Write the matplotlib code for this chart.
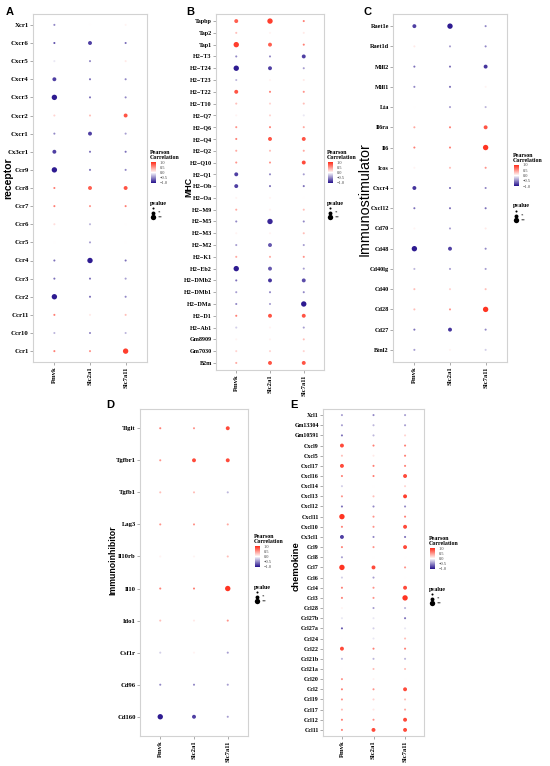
import matplotlib
matplotlib.use("Agg")
import matplotlib.pyplot as plt
from matplotlib.colors import LinearSegmentedColormap, Normalize
from matplotlib.cm import ScalarMappable

W, H = 550, 766

samples = ["Pmvk", "Slc2a1", "Slc7a11"]

# genes listed top -> bottom; r = Pearson r per sample; p = pvalue level (0 none, 1 "*", 2 "**")
receptor_genes = ["Xcr1", "Cxcr6", "Cxcr5", "Cxcr4", "Cxcr3", "Cxcr2", "Cxcr1", "Cx3cr1", "Ccr9", "Ccr8",
                  "Ccr7", "Ccr6", "Ccr5", "Ccr4", "Ccr3", "Ccr2", "Ccr11", "Ccr10", "Ccr1"]
receptor_r = [(-0.5, 0.0, 0.05), (-0.7, -0.8, -0.6), (-0.1, -0.5, 0.1), (-0.8, -0.6, -0.5),
              (-0.95, -0.6, -0.5), (0.2, 0.3, 0.8), (-0.5, -0.8, -0.4), (-0.8, -0.6, -0.6),
              (-0.95, -0.6, -0.5), (0.6, 0.75, 0.8), (0.6, 0.5, 0.6), (0.15, -0.3, 0.0),
              (0.0, -0.4, 0.0), (-0.6, -0.95, -0.6), (-0.6, -0.6, -0.4), (-0.95, -0.6, -0.5),
              (0.6, 0.1, 0.3), (-0.3, -0.5, -0.3), (0.6, 0.5, 0.9)]
receptor_p = [(0, 0, 0), (0, 1, 0), (0, 0, 0), (1, 0, 0), (2, 0, 0), (0, 0, 1), (0, 1, 0), (1, 0, 0),
              (2, 0, 0), (0, 1, 1), (0, 0, 0), (0, 0, 0), (0, 0, 0), (0, 2, 0), (0, 0, 0), (2, 0, 0),
              (0, 0, 0), (0, 0, 0), (0, 0, 2)]

mhc_genes = ["Tapbp", "Tap2", "Tap1", "H2−T3", "H2−T24", "H2−T23", "H2−T22", "H2−T10", "H2−Q7", "H2−Q6",
             "H2−Q4", "H2−Q2", "H2−Q10", "H2−Q1", "H2−Ob", "H2−Oa", "H2−M9", "H2−M5", "H2−M3", "H2−M2",
             "H2−K1", "H2−Eb2", "H2−DMb2", "H2−DMb1", "H2−DMa", "H2−D1", "H2−Ab1", "Gm8909", "Gm7030", "B2m"]
mhc_r = [(0.75, 0.9, 0.6), (0.3, 0.05, 0.1), (0.9, 0.75, 0.6), (-0.5, -0.5, -0.8), (-0.95, -0.8, -0.4),
         (-0.3, 0.05, 0.1), (0.8, 0.6, 0.5), (0.3, 0.2, 0.3), (0.05, 0.2, -0.1), (0.5, 0.6, 0.4),
         (0.6, 0.8, 0.8), (0.4, 0.3, 0.4), (0.5, 0.5, 0.85), (-0.8, -0.5, -0.4), (-0.8, -0.6, -0.6),
         (0.05, 0.05, 0.0), (0.4, 0.05, 0.3), (-0.5, -0.9, -0.5), (0.05, 0.05, 0.3), (-0.4, -0.7, -0.4),
         (0.4, 0.4, 0.5), (-0.95, -0.7, -0.4), (-0.6, -0.85, -0.75), (-0.4, -0.5, -0.5), (-0.5, -0.4, -0.95),
         (0.6, 0.8, 0.8), (-0.2, 0.05, -0.4), (0.05, 0.05, 0.3), (0.2, 0.2, 0.2), (0.4, 0.8, 0.8)]
mhc_p = [(1, 2, 0), (0, 0, 0), (2, 1, 0), (0, 0, 1), (2, 1, 0), (0, 0, 0), (1, 0, 0), (0, 0, 0), (0, 0, 0),
         (0, 0, 0), (0, 1, 1), (0, 0, 0), (0, 0, 1), (1, 0, 0), (1, 0, 0), (0, 0, 0), (0, 0, 0), (0, 2, 0),
         (0, 0, 0), (0, 1, 0), (0, 0, 0), (2, 1, 0), (0, 1, 1), (0, 0, 0), (0, 0, 2), (0, 1, 1), (0, 0, 0),
         (0, 0, 0), (0, 0, 0), (0, 1, 1)]

stim_genes = ["Raet1e", "Raet1d", "Mill2", "Mill1", "Lta", "Il6ra", "Il6", "Icos", "Cxcr4", "Cxcl12",
              "Cd70", "Cd48", "Cd40lg", "Cd40", "Cd28", "Cd27", "Btnl2"]
stim_r = [(-0.8, -0.95, -0.5), (0.1, -0.4, -0.5), (-0.6, -0.6, -0.85), (-0.5, -0.6, 0.05), (0.0, -0.4, -0.3),
          (0.4, 0.6, 0.8), (0.6, 0.6, 0.95), (0.05, 0.3, 0.5), (-0.85, -0.6, -0.5), (-0.6, -0.6, -0.6),
          (0.05, -0.4, 0.1), (-0.95, -0.8, -0.5), (-0.3, -0.4, -0.4), (0.3, 0.2, 0.3), (0.3, 0.5, 0.95),
          (-0.6, -0.85, -0.5), (-0.4, 0.05, -0.2)]
stim_p = [(1, 2, 0), (0, 0, 0), (0, 0, 1), (0, 0, 0), (0, 0, 0), (0, 0, 1), (0, 0, 2), (0, 0, 0), (1, 0, 0),
          (0, 0, 0), (0, 0, 0), (2, 1, 0), (0, 0, 0), (0, 0, 0), (0, 0, 2), (0, 1, 0), (0, 0, 0)]

inhib_genes = ["Tigit", "Tgfbr1", "Tgfb1", "Lag3", "Il10rb", "Il10", "Ido1", "Csf1r", "Cd96", "Cd160"]
inhib_r = [(0.6, 0.5, 0.85), (0.5, 0.85, 0.85), (0.3, 0.3, -0.3), (0.5, 0.5, 0.4), (0.05, 0.05, 0.3),
           (0.6, 0.6, 0.95), (0.3, 0.1, 0.5), (-0.2, 0.05, -0.4), (-0.5, -0.5, -0.4), (-0.95, -0.8, -0.4)]
inhib_p = [(0, 0, 1), (0, 1, 1), (0, 0, 0), (0, 0, 0), (0, 0, 0), (0, 0, 2), (0, 0, 0), (0, 0, 0),
           (0, 0, 0), (2, 1, 0)]

chemo_genes = ["Xcl1", "Gm13304", "Gm10591", "Cxcl9", "Cxcl5", "Cxcl17", "Cxcl16", "Cxcl14", "Cxcl13",
               "Cxcl12", "Cxcl11", "Cxcl10", "Cx3cl1", "Ccl9", "Ccl8", "Ccl7", "Ccl6", "Ccl4", "Ccl3",
               "Ccl28", "Ccl27b", "Ccl27a", "Ccl24", "Ccl22", "Ccl21b", "Ccl21a", "Ccl20", "Ccl2", "Ccl19",
               "Ccl17", "Ccl12", "Ccl11"]
chemo_r = [(-0.4, -0.5, -0.4), (-0.4, -0.3, -0.4), (-0.6, -0.3, 0.2), (0.85, 0.6, 0.6), (0.3, 0.1, 0.6),
           (0.85, 0.6, 0.6), (0.6, 0.6, 0.85), (-0.2, 0.0, 0.2), (0.5, 0.3, 0.9), (-0.6, -0.5, -0.5),
           (0.95, 0.5, 0.6), (0.6, 0.5, 0.85), (-0.8, -0.5, -0.6), (0.6, 0.5, 0.85), (-0.4, 0.0, 0.0),
           (0.95, 0.85, 0.5), (-0.2, -0.4, 0.0), (0.6, 0.5, 0.85), (0.6, 0.5, 0.95), (0.05, -0.4, -0.3),
           (-0.1, -0.1, -0.6), (-0.7, -0.2, -0.1), (0.0, -0.1, 0.3), (0.85, 0.6, 0.6), (-0.3, -0.3, -0.3),
           (0.0, 0.3, 0.3), (0.5, 0.05, 0.0), (0.6, 0.5, 0.85), (0.5, 0.2, 0.3), (0.3, 0.1, 0.4),
           (0.6, 0.5, 0.85), (0.6, 0.85, 0.85)]
chemo_p = [(0, 0, 0), (0, 0, 0), (0, 0, 0), (1, 0, 0), (0, 0, 0), (1, 0, 0), (0, 0, 1), (0, 0, 0), (0, 0, 1),
           (0, 0, 0), (2, 0, 0), (0, 0, 1), (1, 0, 0), (0, 0, 1), (0, 0, 0), (2, 1, 0), (0, 0, 0), (0, 0, 1),
           (0, 0, 2), (0, 0, 0), (0, 0, 0), (0, 0, 0), (0, 0, 0), (1, 0, 0), (0, 0, 0), (0, 0, 0), (0, 0, 0),
           (0, 0, 1), (0, 0, 0), (0, 0, 0), (0, 0, 1), (0, 1, 1)]

p_labels = ["", "*", "**"]

SIZES = [2.2, 8, 15]
cmap = LinearSegmentedColormap.from_list("pc", ["#24108c", "#ffffff", "#ff2a17"])
norm = Normalize(-1, 1)
SERIF = "Liberation Serif"
SANS = "Liberation Sans"


def rect(x0, y0, x1, y1):
    return [x0 / W, 1 - y1 / H, (x1 - x0) / W, (y1 - y0) / H]


def dot_panel(fig, box, genes, r, p, title, title_xy, title_size, letter, letter_xy, ysize,
              title_weight="bold"):
    ax = fig.add_axes(rect(*box))
    n = len(genes)
    xs, ys, cs, ss = [], [], [], []
    for i in range(n):
        for j in range(3):
            xs.append(j)
            ys.append(n - 1 - i)
            cs.append(r[i][j])
            ss.append(SIZES[p[i][j]])
    ax.scatter(xs, ys, c=cs, s=ss, cmap=cmap, norm=norm, linewidths=0)
    ax.set_xlim(-0.6, 2.6)
    ax.set_ylim(-0.6, n - 0.4)
    ax.set_yticks(range(n))
    ax.set_yticklabels(genes[::-1], fontfamily=SERIF, fontweight="bold", fontsize=ysize)
    ax.set_xticks(range(3))
    ax.set_xticklabels(samples, rotation=90, fontfamily=SERIF, fontweight="bold", fontsize=4.8)
    ax.tick_params(length=2, width=0.5, color="#888888", pad=1)
    for s in ax.spines.values():
        s.set_color("#d2d2d2")
        s.set_linewidth(0.8)
    fig.text(title_xy[0] / W, 1 - title_xy[1] / H, title, rotation=90, ha="center", va="center",
             fontfamily=SANS, fontweight=title_weight, fontsize=title_size)
    fig.text(letter_xy[0] / W, 1 - letter_xy[1] / H, letter, ha="center", va="center",
             fontfamily=SANS, fontweight="bold", fontsize=8)
    return ax


def legend(fig, lx, ly):
    lax = fig.add_axes(rect(lx, ly, lx + 45, ly + 72))
    lax.set_xlim(0, 45)
    lax.set_ylim(72, 0)
    lax.axis("off")
    lax.text(0, 2.5, "Pearson", fontfamily=SERIF, fontweight="bold", fontsize=4.3, va="center")
    lax.text(0, 7.5, "Correlation", fontfamily=SERIF, fontweight="bold", fontsize=4.3, va="center")
    lax.text(0, 53, "pvalue", fontfamily=SERIF, fontweight="bold", fontsize=4.3, va="center")
    for k, yy in enumerate([58, 62.5, 67]):
        lax.scatter([3], [yy], s=SIZES[k], color="black", linewidths=0)
        lax.text(8, yy, p_labels[k], fontfamily=SERIF, fontsize=3.5, va="center")
    cax = fig.add_axes(rect(lx + 1, ly + 12, lx + 6, ly + 33))
    cb = fig.colorbar(ScalarMappable(norm=norm, cmap=cmap), cax=cax, ticks=[-1, -0.5, 0, 0.5, 1])
    cb.outline.set_visible(False)
    cb.ax.set_yticklabels(["\u22121.0", "\u22120.5", "0.0", "0.5", "1.0"], fontfamily=SERIF, fontsize=3.2,
                          color="#444444")
    cb.ax.tick_params(length=1.5, width=0.4, color="white", pad=1)


fig = plt.figure(figsize=(W / 100, H / 100), dpi=100)

dot_panel(fig, (33, 14, 147, 362), receptor_genes, receptor_r, receptor_p, "receptor", (8.5, 178), 7.5,
          "A", (10, 12), 4.9)
legend(fig, 150, 150)
dot_panel(fig, (216, 14, 324, 370), mhc_genes, mhc_r, mhc_p, "MHC", (188.5, 187), 6.3, "B", (190, 12), 4.4)
legend(fig, 327, 150)
dot_panel(fig, (393, 14, 507, 362), stim_genes, stim_r, stim_p, "Immunostimulator", (365, 199), 10.3,
          "C", (368, 12), 4.5, title_weight="normal")
legend(fig, 513, 153)
dot_panel(fig, (140, 409, 248, 736), inhib_genes, inhib_r, inhib_p, "Immunoinhibitor", (113, 560), 6.3,
          "D", (110, 405), 4.8)
legend(fig, 254, 534)
dot_panel(fig, (323, 409, 424, 736), chemo_genes, chemo_r, chemo_p, "chemokine", (296, 566), 6.8,
          "E", (294, 405), 4.3)
legend(fig, 429, 536)

fig.savefig("out.png", dpi=100)
